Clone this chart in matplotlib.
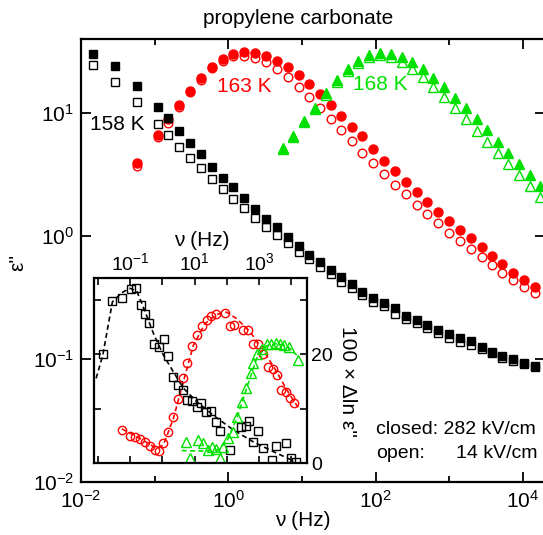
import matplotlib
matplotlib.use('Agg')
import matplotlib.pyplot as plt
import numpy as np
from matplotlib.ticker import FixedLocator, NullFormatter, NullLocator

plt.rcParams['font.family'] = ['Liberation Sans', 'DejaVu Sans']
plt.rcParams['mathtext.fontset'] = 'custom'
plt.rcParams['mathtext.rm'] = 'Liberation Sans'
plt.rcParams['mathtext.it'] = 'Liberation Sans:italic'
plt.rcParams['mathtext.bf'] = 'Liberation Sans:bold'

# ---------------- main panel data (log10 values) -------------
lg_nu_158 = [-1.833, -1.538, -1.244, -0.959, -0.815, -0.665, -0.520, -0.371, -0.225, -0.076,
             0.068, 0.217, 0.363, 0.508, 0.657, 0.806, 0.956, 1.100, 1.245, 1.390,
             1.530, 1.676, 1.819, 1.969, 2.118, 2.268, 2.413, 2.558, 2.702, 2.843,
             2.997, 3.146, 3.291, 3.441, 3.584, 3.720, 3.870, 4.015, 4.164]
lg_eps_158_closed = [1.477, 1.382, 1.220, 1.047, 0.957, 0.854, 0.759, 0.664, 0.563, 0.474,
                     0.400, 0.311, 0.220, 0.136, 0.071, -0.011, -0.079, -0.154, -0.214, -0.276,
                     -0.336, -0.393, -0.453, -0.507, -0.547, -0.588, -0.648, -0.683, -0.724, -0.764,
                     -0.800, -0.832, -0.854, -0.900, -0.941, -0.976, -1.002, -1.030, -1.057]
lg_eps_158_open = [1.390, 1.250, 1.089, 0.908, 0.819, 0.726, 0.637, 0.550, 0.463, 0.382,
                   0.301, 0.225, 0.144, 0.076, 0.008, -0.059, -0.128, -0.189, -0.250, -0.309,
                   -0.374, -0.423, -0.480, -0.534, -0.569, -0.634, -0.675, -0.710, -0.748, -0.791,
                   -0.830, -0.859, -0.886, -0.919, -0.954, -0.989, -1.016, -1.041, -1.065]

lg_nu_163 = lg_nu_158[2:]
lg_eps_163_closed = [0.596, 0.821, 0.949, 1.065, 1.181, 1.282, 1.372, 1.437, 1.477, 1.493,
                     1.490, 1.466, 1.425, 1.372, 1.309, 1.233, 1.152, 1.065, 0.976, 0.889,
                     0.815, 0.710, 0.612, 0.528, 0.439, 0.355, 0.279, 0.198, 0.124, 0.049,
                     -0.019, -0.092, -0.163, -0.230, -0.298, -0.358, -0.412]
lg_eps_163_open = [0.569, 0.802, 0.921, 1.046, 1.168, 1.268, 1.363, 1.425, 1.463, 1.466,
                   1.450, 1.412, 1.358, 1.290, 1.214, 1.133, 1.043, 0.949, 0.862, 0.772,
                   0.677, 0.591, 0.504, 0.415, 0.339, 0.252, 0.176, 0.103, 0.027, -0.038,
                   -0.106, -0.173, -0.236, -0.298, -0.358, -0.412, -0.466]

lg_nu_168 = [0.747, 0.883, 1.032, 1.177, 1.326, 1.472, 1.621, 1.765, 1.910, 2.060,
             2.205, 2.354, 2.498, 2.640, 2.783, 2.929, 3.078, 3.223, 3.373, 3.517,
             3.658, 3.802, 3.947, 4.096, 4.232]
lg_eps_168_closed = [0.718, 0.813, 0.937, 1.038, 1.160, 1.268, 1.358, 1.425, 1.472, 1.490,
                     1.480, 1.453, 1.412, 1.355, 1.287, 1.209, 1.124, 1.038, 0.949, 0.862,
                     0.767, 0.677, 0.585, 0.496, 0.407]
lg_eps_168_open = [0.707, 0.805, 0.929, 1.030, 1.146, 1.252, 1.341, 1.409, 1.455, 1.472,
                   1.453, 1.417, 1.355, 1.290, 1.214, 1.128, 1.038, 0.949, 0.856, 0.767,
                   0.677, 0.585, 0.496, 0.407, 0.320]

# ---------------- inset data: 100 x Delta ln eps'' ---------------------------
in_lg_nu_158 = [-1.846, -1.549, -1.257, -0.978, -0.820, -0.674, -0.535, -0.402, -0.250, -0.101,
                0.054, 0.188, 0.343, 0.488, 0.637, 0.767, 0.922, 1.068, 1.211, 1.357,
                1.512, 1.660, 1.800, 2.101, 2.442, 2.597, 2.699, 2.823, 2.978, 3.115,
                3.403, 3.537, 3.837, 3.992, 4.138]
in_d_158 = [20.0, 29.8, 30.5, 32.0, 32.2, 29.1, 27.5, 25.8, 22.0, 21.3,
            22.8, 19.8, 15.9, 14.4, 13.5, 11.6, 11.4, 10.4, 11.0, 9.4,
            9.6, 7.6, 5.9, 2.4, 6.7, 6.8, 7.7, 3.8, 5.9, 2.7,
            0.5, 3.2, 3.7, 0.9, 0.2]
fit_lg_nu_158 = [-2.054, -1.846, -1.549, -1.257, -1.0, -0.792, -0.535, -0.256, 0.033, 0.343,
                 0.653, 1.068, 1.583, 2.203, 2.823, 3.443, 4.064]
fit_d_158 = [15.6, 19.9, 29.7, 31.4, 32.2, 31.7, 27.9, 23.6, 19.9, 16.8,
             13.8, 11.3, 8.8, 6.1, 3.9, 2.1, 0.4]

in_lg_nu_163 = [-1.257, -1.0, -0.845, -0.690, -0.535, -0.380, -0.225, -0.091, 0.033, 0.188,
                0.343, 0.479, 0.634, 0.758, 0.913, 1.068, 1.223, 1.378, 1.512, 1.667,
                1.946, 2.101, 2.225, 2.513, 2.668, 2.823, 2.978, 3.115, 3.288, 3.425,
                3.549, 3.682, 3.828, 3.961, 4.095]
in_d_163 = [6.1, 5.0, 4.8, 4.4, 3.9, 3.2, 2.4, 2.3, 3.6, 5.8,
            8.5, 11.8, 15.6, 18.4, 21.6, 23.6, 25.3, 26.3, 27.1, 27.4,
            27.6, 25.2, 25.4, 24.5, 24.6, 22.0, 21.9, 20.0, 17.7, 17.4,
            16.2, 13.4, 13.1, 11.9, 11.0]
fit_lg_nu_163 = [-1.257, -0.690, -0.173, 0.033, 0.343, 0.653, 0.963, 1.326, 1.688, 1.998,
                 2.308, 2.721, 3.133, 3.549, 3.961, 4.271]
fit_d_163 = [6.3, 4.5, 2.7, 3.3, 8.2, 15.0, 21.7, 25.7, 27.4, 27.8,
             26.6, 24.2, 20.8, 16.8, 12.5, 9.8]

in_lg_nu_168 = [0.736, 0.860, 1.118, 1.273, 1.409, 1.533, 1.667, 1.791, 1.893, 2.048,
                2.184, 2.308, 2.463, 2.597, 2.743, 2.823, 2.929, 3.084, 3.239, 3.372,
                3.518, 3.651, 3.785, 3.930, 4.219]
in_d_168 = [3.8, 1.0, 4.2, 3.6, 2.4, 2.9, 2.6, 1.0, 3.0, 4.7,
            5.8, 8.5, 11.3, 13.8, 16.5, 18.4, 20.0, 21.1, 21.9, 22.0,
            22.2, 21.9, 21.7, 21.4, 19.0]
fit_lg_nu_168 = [0.603, 1.171, 1.688, 1.998, 2.308, 2.618, 2.929, 3.239, 3.549, 3.859, 4.169]
fit_d_168 = [2.3, 2.2, 2.3, 3.9, 8.2, 13.8, 19.3, 21.6, 22.0, 21.6, 19.9]

BLACK = 'black'
RED = '#ff0000'
GREEN = '#00e000'

fig = plt.figure(figsize=(5.43, 5.35), dpi=100)
W, H = 543.0, 535.0

# ---------------- main axes ----------------
ax = fig.add_axes([81 / W, (H - 482) / H, (545 - 81) / W, (482 - 39) / H])
ax.set_xscale('log')
ax.set_yscale('log')
ax.set_xlim(1e-2, 10 ** 4.30)
ax.set_ylim(1e-2, 10 ** 1.602)

def p(v):
    return 10 ** np.asarray(v)

# open (low field) symbols first, filled (high field) on top
ax.plot(p(lg_nu_163), p(lg_eps_163_open), 'o', ls='none', mfc='white', mec=RED, ms=6.2, mew=1.0)
ax.plot(p(lg_nu_163), p(lg_eps_163_closed), 'o', ls='none', color=RED, ms=6.5, mec=RED)
ax.plot(p(lg_nu_168), p(lg_eps_168_open), '^', ls='none', mfc='white', mec=GREEN, ms=6.8, mew=1.0)
ax.plot(p(lg_nu_168), p(lg_eps_168_closed), '^', ls='none', color=GREEN, ms=7, mec=GREEN)
ax.plot(p(lg_nu_158), p(lg_eps_158_open), 's', ls='none', mfc='white', mec=BLACK, ms=5.2, mew=1.0)
ax.plot(p(lg_nu_158), p(lg_eps_158_closed), 's', ls='none', color=BLACK, ms=5.2, mec=BLACK)

ax.xaxis.set_major_locator(FixedLocator([1e-2, 1e0, 1e2, 1e4]))
ax.xaxis.set_minor_locator(FixedLocator([1e-1, 1e1, 1e3]))
ax.xaxis.set_minor_formatter(NullFormatter())
ax.yaxis.set_major_locator(FixedLocator([1e-2, 1e-1, 1e0, 1e1]))
ax.yaxis.set_minor_locator(NullLocator())
ax.tick_params(which='both', direction='in', top=True, right=True, width=1.3, labelsize=15)
ax.tick_params(which='major', length=7)
ax.tick_params(axis='x', which='major', pad=6)
ax.tick_params(axis='y', which='major', pad=5)
ax.tick_params(which='minor', length=4)
for s in ax.spines.values():
    s.set_linewidth(1.6)

fig.text(303 / W, 1 - 520 / H, 'ν (Hz)', ha='center', va='center', fontsize=15)
fig.text(18 / W, 1 - 262 / H, "ε''", ha='center', va='center', fontsize=15, rotation=90)
fig.text(298 / W, 1 - 18 / H, 'propylene carbonate', ha='center', va='center', fontsize=15)

fig.text(117 / W, 1 - 124 / H, '158 K', ha='center', va='center', fontsize=15, color=BLACK)
fig.text(244 / W, 1 - 86 / H, '163 K', ha='center', va='center', fontsize=15, color=RED)
fig.text(380 / W, 1 - 84 / H, '168 K', ha='center', va='center', fontsize=15, color=GREEN)

fig.text(376 / W, 1 - 430 / H, 'closed: 282 kV/cm', ha='left', va='center', fontsize=14)
fig.text(376 / W, 1 - 453 / H, 'open:', ha='left', va='center', fontsize=14)
fig.text(537 / W, 1 - 453 / H, '14 kV/cm', ha='right', va='center', fontsize=14)

# ---------------- inset ----------------
ins = fig.add_axes([94 / W, (H - 463) / H, (307 - 94) / W, (463 - 278) / H])
ins.set_facecolor('white')
ins.set_xscale('log')
ins.set_xlim(10 ** -2.12, 10 ** 4.49)
ins.set_ylim(0, 34.1)

ins.plot(p(fit_lg_nu_158), fit_d_158, '--', color=BLACK, lw=1.2, dashes=(3, 2))
ins.plot(p(fit_lg_nu_163), fit_d_163, '--', color=RED, lw=1.2, dashes=(3, 2))
ins.plot(p(fit_lg_nu_168), fit_d_168, '--', color=GREEN, lw=1.2, dashes=(3, 2))
ins.plot(p(in_lg_nu_158), in_d_158, 's', ls='none', mfc='none', mec=BLACK, ms=5.5, mew=1.0)
ins.plot(p(in_lg_nu_163), in_d_163, 'o', ls='none', mfc='none', mec=RED, ms=6, mew=1.0)
ins.plot(p(in_lg_nu_168), in_d_168, '^', ls='none', mfc='none', mec=GREEN, ms=6.5, mew=1.0)

ins.xaxis.set_major_locator(FixedLocator([1e-1, 1e1, 1e3]))
ins.xaxis.set_minor_locator(FixedLocator([1e-2, 1e0, 1e2, 1e4]))
ins.xaxis.set_minor_formatter(NullFormatter())
ins.yaxis.set_major_locator(FixedLocator([0, 20]))
ins.yaxis.set_minor_locator(FixedLocator([10, 30]))
ins.tick_params(which='both', direction='in', top=True, right=True, bottom=True, left=True,
                labeltop=True, labelbottom=False, labelright=True, labelleft=False,
                width=1.2, labelsize=14, length=5, pad=3)
for s in ins.spines.values():
    s.set_linewidth(1.6)

fig.text(202 / W, 1 - 240 / H, 'ν (Hz)', ha='center', va='center', fontsize=15)
fig.text(347 / W, 1 - 381 / H, "100 × Δln ε''", ha='center', va='center', fontsize=15, rotation=-90)

fig.savefig('out.png', dpi=100)
